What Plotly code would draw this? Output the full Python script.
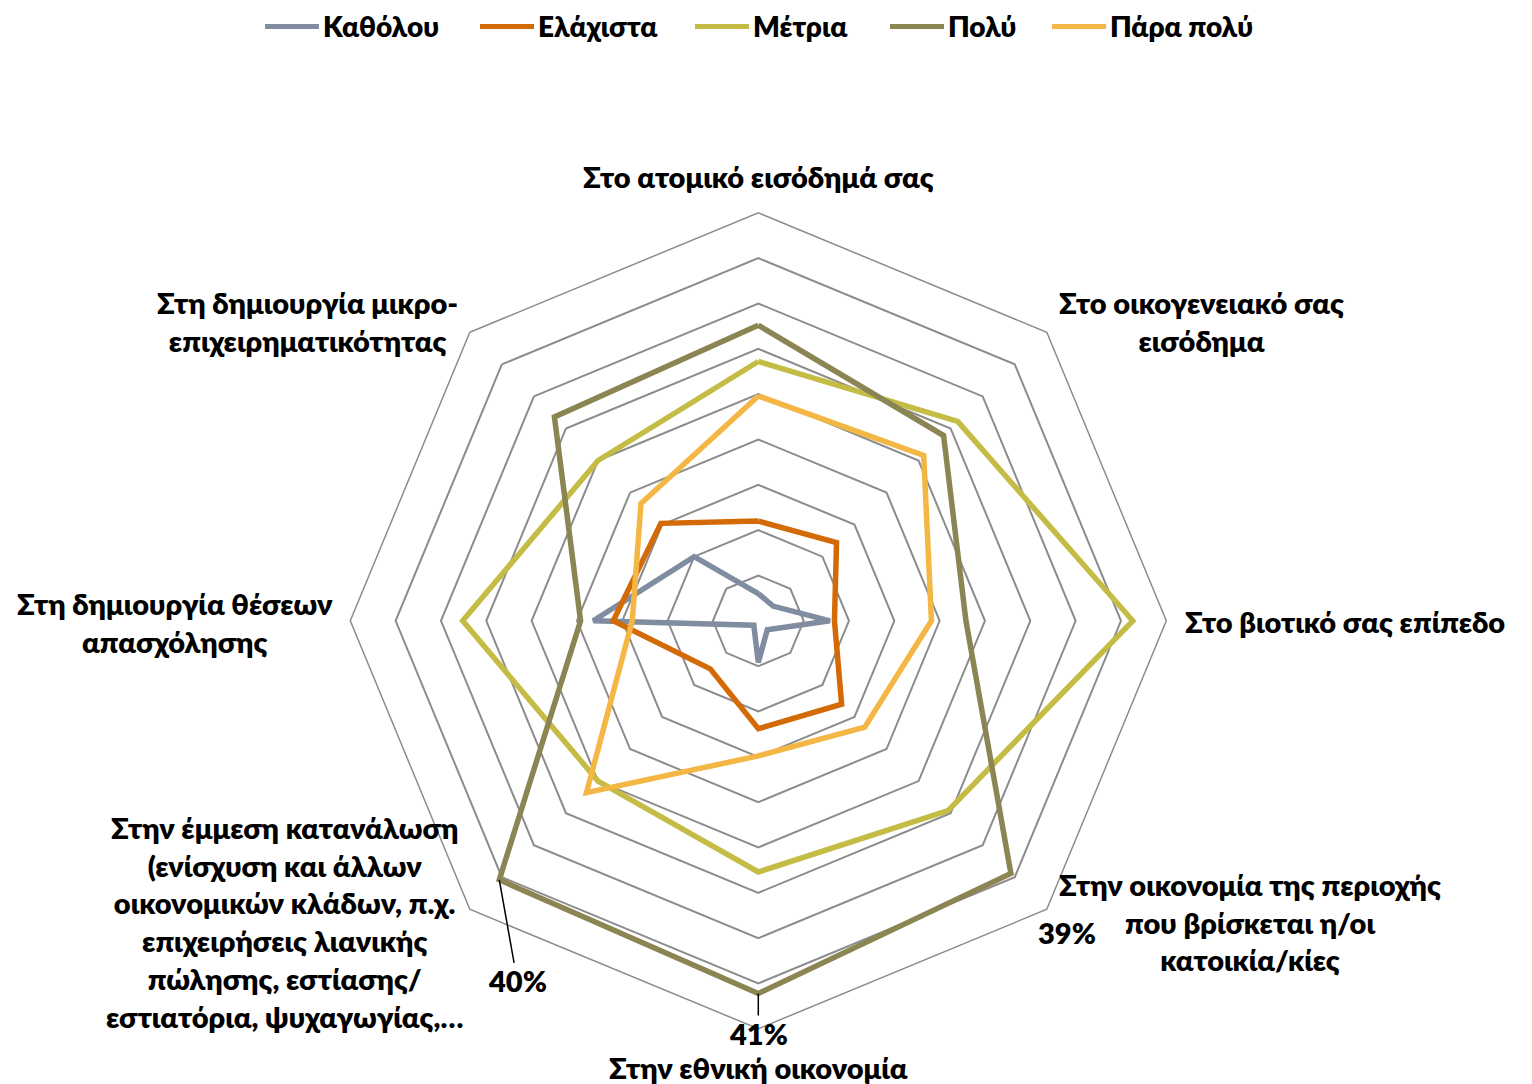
import math
import plotly.graph_objects as go

# the page adds an 8px body margin; the figure is sized/positioned to compensate
OFF = 8
W, H = 1532 - OFF, 1084 - OFF

categories = [
    "Στο ατομικό εισόδημά σας",
    "Στο οικογενειακό σας εισόδημα",
    "Στο βιοτικό σας επίπεδο",
    "Στην οικονομία της περιοχής που βρίσκεται η/οι κατοικία/κίες",
    "Στην εθνική οικονομία",
    "Στην έμμεση κατανάλωση (ενίσχυση και άλλων οικονομικών κλάδων, π.χ. επιχειρήσεις λιανικής πώλησης, εστίασης/ εστιατόρια, ψυχαγωγίας,…",
    "Στη δημιουργία θέσεων απασχόλησης",
    "Στη δημιουργία μικρο-επιχειρηματικότητας",
]
category_labels = [
    "Στο ατομικό εισόδημά σας",
    "Στο οικογενειακό σας<br>εισόδημα",
    "Στο βιοτικό σας επίπεδο",
    "Στην οικονομία της περιοχής<br>που βρίσκεται η/οι<br>κατοικία/κίες",
    "Στην εθνική οικονομία",
    "Στην έμμεση κατανάλωση<br>(ενίσχυση και άλλων<br>οικονομικών κλάδων, π.χ.<br>επιχειρήσεις λιανικής<br>πώλησης, εστίασης/<br>εστιατόρια, ψυχαγωγίας,…",
    "Στη δημιουργία θέσεων<br>απασχόλησης",
    "Στη δημιουργία μικρο-<br>επιχειρηματικότητας",
]

series_names = ["Καθόλου", "Ελάχιστα", "Μέτρια", "Πολύ", "Πάρα πολύ"]
katholou = [3.0, 2.3, 7.9, 1.4, 4.6, 0.7, 18.2, 10.0]
elachista = [11.0, 12.2, 8.4, 13.0, 11.9, 7.5, 16.0, 15.2]
metria = [28.6, 31.1, 41.3, 29.6, 27.7, 25.0, 32.6, 25.0]
poly = [32.6, 28.9, 22.9, 39.4, 41.1, 40.4, 19.6, 31.8]
para_poly = [24.8, 25.8, 19.1, 16.6, 14.9, 26.8, 13.9, 18.3]
series_values = [katholou, elachista, metria, poly, para_poly]
colors = ["#808DA0", "#D46A06", "#C4BC45", "#8B8553", "#F4B745"]

# categories where the "Πολύ" series shows a value label
poly_label_idx = [3, 4, 5]

r_max = 45
# polar placement, reference pixels
cx, cy, R = 758.3, 620.8, 408.0

FONT = "Lato"
FS = 29
WEIGHT = 800

fig = go.Figure()
for name, vals, col in zip(series_names, series_values, colors):
    fig.add_trace(go.Scatterpolar(
        r=vals + vals[:1],
        theta=categories + categories[:1],
        mode="lines",
        name=name,
        line=dict(color=col, width=5.5),
        hoverinfo="name+r",
        showlegend=False,
    ))


def px2paper(x, y):
    return (x - OFF) / W, 1 - (y - OFF) / H


x0, y1 = px2paper(cx - R, cy - R)
x1, y0 = px2paper(cx + R, cy + R)


def to_paper(r, idx):
    ang = math.radians(idx * 360.0 / len(categories))
    px = cx + r / r_max * R * math.sin(ang)
    py = cy - r / r_max * R * math.cos(ang)
    return px2paper(px, py)


annotations = []
shapes = []
bold = dict(family=FONT, size=FS, color="black", weight=WEIGHT)

# category labels
label_pos = [
    (758, 176, "center"),
    (1201, 321, "center"),
    (1183, 621, "left"),
    (1250, 922, "center"),
    (758, 1067, "center"),
    (284, 922, "center"),
    (175, 622, "center"),
    (307, 321, "center"),
]
for txt, (lx, ly, al) in zip(category_labels, label_pos):
    ax_, ay_ = px2paper(lx, ly)
    annotations.append(dict(
        x=ax_, y=ay_, xref="paper", yref="paper",
        text=txt, showarrow=False, align="center",
        xanchor=al, yanchor="middle", font=bold,
    ))

# data labels for "Πολύ" with leader lines (offsets in px)
offsets = {3: (56, 59, False), 4: (0, 40, True), 5: (18, 101, True)}
for idx in poly_label_idx:
    v = poly[idx]
    px, py = to_paper(v, idx)
    ax, ay, show_line = offsets[idx]
    annotations.append(dict(
        x=px, y=py, xref="paper", yref="paper",
        text=f"{round(v):d}%", showarrow=True, ax=ax, ay=ay,
        arrowhead=0, arrowwidth=1.5,
        arrowcolor="black" if show_line else "rgba(0,0,0,0)",
        standoff=0, font=bold, borderpad=0,
    ))

# legend (line sample + name) across the top
legend_x = [265, 480, 695, 890, 1052]
legend_y = 26.5
for name, col, lx in zip(series_names, colors, legend_x):
    xa, ya = px2paper(lx, legend_y)
    xb, _ = px2paper(lx + 54, legend_y)
    shapes.append(dict(type="line", xref="paper", yref="paper",
                       x0=xa, x1=xb, y0=ya, y1=ya,
                       line=dict(color=col, width=5)))
    xt, _ = px2paper(lx + 57, legend_y)
    annotations.append(dict(
        x=xt, y=ya, xref="paper", yref="paper", text=name,
        showarrow=False, xanchor="left", yanchor="middle", borderpad=0,
        font=dict(family=FONT, size=28, color="black", weight=WEIGHT),
    ))

fig.update_layout(
    width=W, height=H,
    margin=dict(l=0, r=0, t=0, b=0),
    paper_bgcolor="white",
    plot_bgcolor="white",
    showlegend=False,
    polar=dict(
        domain=dict(x=[x0, x1], y=[y0, y1]),
        gridshape="linear",
        bgcolor="white",
        radialaxis=dict(
            range=[0, r_max], dtick=5, showticklabels=False, ticks="",
            showline=False, gridcolor="#8C8C8C", gridwidth=1.5,
        ),
        angularaxis=dict(
            rotation=90, direction="clockwise", showticklabels=False,
            ticks="", showgrid=False, showline=True,
            linecolor="#8C8C8C", linewidth=1.5,
        ),
    ),
    annotations=annotations,
    shapes=shapes,
)

fig.write_html("out.html")
